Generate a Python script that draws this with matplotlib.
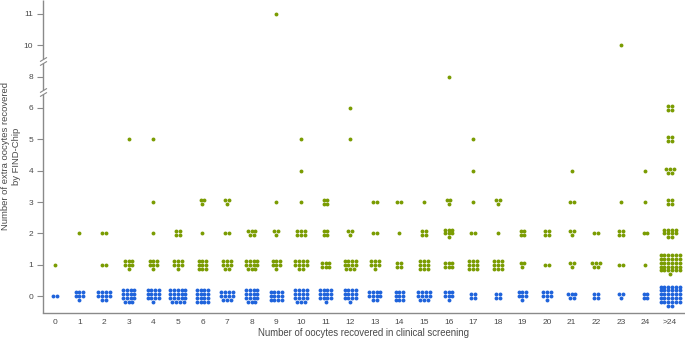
import numpy as np
import matplotlib.pyplot as plt
from matplotlib.transforms import blended_transform_factory

plt.rcParams['font.family'] = ['Liberation Sans', 'DejaVu Sans']

# categories: number of oocytes recovered in clinical screening
categories = [str(i) for i in range(25)] + ['>24']

# number of patients per category for each "extra oocytes" value
extra_0 = [2, 7, 10, 15, 13, 19, 16, 11, 15, 12, 15, 13, 13, 10, 9, 11, 7, 4, 4, 7, 7, 5, 4, 3, 4, 32]
extra_1 = [1, 0, 2, 7, 7, 7, 9, 8, 11, 7, 10, 6, 11, 7, 4, 9, 6, 9, 9, 3, 2, 3, 5, 2, 1, 31]
extra_2 = [0, 1, 2, 0, 1, 4, 1, 2, 5, 3, 6, 4, 3, 2, 1, 4, 7, 2, 1, 4, 4, 3, 2, 4, 2, 10]
extra_3 = [0, 0, 0, 0, 1, 0, 3, 3, 0, 1, 1, 4, 0, 2, 2, 1, 3, 1, 3, 0, 0, 2, 0, 1, 1, 4]
extra_4 = [0, 0, 0, 0, 0, 0, 0, 0, 0, 0, 1, 0, 0, 0, 0, 0, 0, 1, 0, 0, 0, 1, 0, 0, 1, 5]
extra_5 = [0, 0, 0, 1, 1, 0, 0, 0, 0, 0, 1, 0, 1, 0, 0, 0, 0, 1, 0, 0, 0, 0, 0, 0, 0, 4]
extra_6 = [0, 0, 0, 0, 0, 0, 0, 0, 0, 0, 0, 0, 1, 0, 0, 0, 0, 0, 0, 0, 0, 0, 0, 0, 0, 4]
extra_8 = [0, 0, 0, 0, 0, 0, 0, 0, 0, 0, 0, 0, 0, 0, 0, 0, 1, 0, 0, 0, 0, 0, 0, 0, 0, 0]
extra_10 = [0, 0, 0, 0, 0, 0, 0, 0, 0, 0, 0, 0, 0, 0, 0, 0, 0, 0, 0, 0, 0, 0, 0, 1, 0, 0]
extra_11 = [0, 0, 0, 0, 0, 0, 0, 0, 0, 1, 0, 0, 0, 0, 0, 0, 0, 0, 0, 0, 0, 0, 0, 0, 0, 0]

levels = [0, 1, 2, 3, 4, 5, 6, 8, 10, 11]
counts = [extra_0, extra_1, extra_2, extra_3, extra_4, extra_5, extra_6, extra_8, extra_10, extra_11]

blue = '#1f63db'
green = '#7a9c02'
axis_col = '#8a8a8a'
text_col = '#4a4a4a'

# broken y scale: 0-6, then 8, then 10-11
knots_data = [-5, 6.45, 7.55, 8.45, 9.55, 20]
knots_plot = [-5, 6.45, 6.55, 7.45, 7.55, 18]

def fwd(y):
    return np.interp(y, knots_data, knots_plot)

def inv(t):
    return np.interp(t, knots_plot, knots_data)

def grid_positions(xc, yc, n, dx, dy):
    ncols = int(np.ceil(np.sqrt(n)))
    nrows = int(np.ceil(n / ncols))
    xs, ys = [], []
    for r in range(nrows):
        k = ncols if r < nrows - 1 else n - ncols * (nrows - 1)
        for i in range(k):
            xs.append(xc + (i - (k - 1) / 2) * dx)
            ys.append(yc + ((nrows - 1) / 2 - r) * dy)
    return xs, ys

fig = plt.figure(figsize=(6.85, 3.39), dpi=100)
ax = fig.add_axes([0.0628, 0.0767, 0.937, 0.923])
ax.set_yscale('function', functions=(fwd, inv))

dx, dy = 0.153, 0.121
for lev, cnt in zip(levels, counts):
    xs, ys = [], []
    for ci, n in enumerate(cnt):
        if n > 0:
            px, py = grid_positions(ci, lev, n, dx, dy)
            xs += px
            ys += py
    ax.scatter(xs, ys, s=7.8, color=blue if lev == 0 else green,
               linewidths=0, zorder=3)

ax.set_xlim(-0.48, 25.6)
ax.set_ylim(-0.54, 11.44)
ax.set_xticks(range(len(categories)))
ax.set_xticklabels(categories)
ax.set_yticks(levels)
ax.set_yticklabels([str(v) for v in levels])
ax.minorticks_off()

for s in ['top', 'right', 'left']:
    ax.spines[s].set_visible(False)
ax.spines['bottom'].set_color(axis_col)
ax.spines['bottom'].set_linewidth(1.0)
ax.tick_params(axis='both', colors=axis_col, labelcolor=text_col,
               labelsize=6, width=0.8)
ax.tick_params(axis='y', length=4, pad=3)
ax.tick_params(axis='x', length=0, pad=4)

# left spine drawn in pieces with break marks
trans = blended_transform_factory(ax.transAxes, ax.transData)
segments = [(-0.54, 6.43), (7.57, 8.43), (9.57, 11.44)]
for y0, y1 in segments:
    ax.plot([0, 0], [y0, y1], transform=trans, color=axis_col, lw=1.0,
            clip_on=False, solid_capstyle='butt')
for yb in [6.43, 7.57, 8.43, 9.57]:
    ax.plot([0], [yb], transform=trans, marker=[(-1, -0.6), (1, 0.6)],
            markersize=5, mew=0.8, color=axis_col, linestyle='none',
            clip_on=False)

ax.set_xlabel('Number of oocytes recovered in clinical screening',
              fontsize=6.9, color=text_col, labelpad=1.5)
fig.text(11 / 685, 0.5389, 'Number of extra oocytes recovered\nby FIND-Chip',
         rotation=90, ha='center', va='center', fontsize=6.8,
         color=text_col, linespacing=1.3)

fig.savefig('out.png', dpi=100)
